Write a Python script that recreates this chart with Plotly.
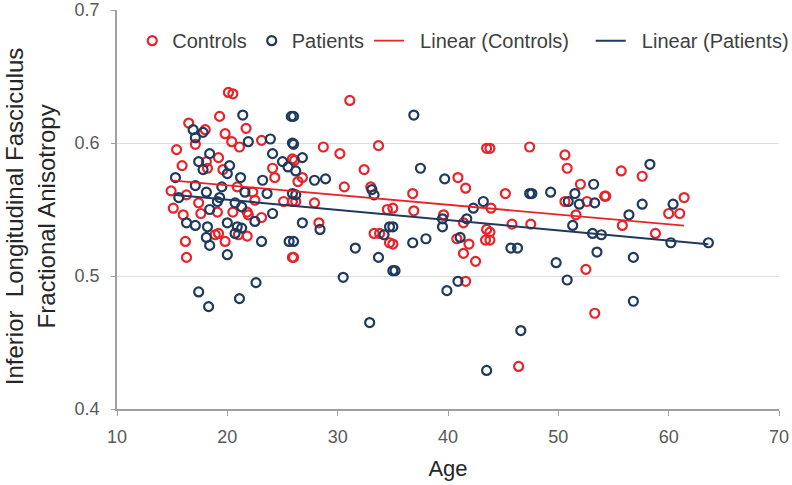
"""Inferior longitudinal fasciculus FA vs age"""
import numpy as np
import plotly.graph_objects as go

controls_age = [
    16.5, 15.4, 17.1, 18.0, 15.9, 14.9, 15.1, 16.0, 16.2, 16.3, 18.1, 17.4, 17.6, 16.3, 18.2, 18.9,
    20.1, 20.5, 19.3, 21.7, 19.8, 20.4, 21.1, 23.1, 19.2, 24.1, 24.3, 25.9, 19.6, 20.9, 22.3, 22.5,
    25.1, 25.9, 21.8, 21.9, 20.5, 23.1, 19.1, 19.2, 19.8, 21.8, 21.0, 25.9,
    31.1, 28.7, 30.2, 33.7, 32.4, 26.1, 26.8, 26.4, 30.6, 33.0, 26.2, 27.9, 34.5, 28.3, 33.3, 33.8,
    34.7, 26.0,
    43.5, 40.9, 41.6, 36.8, 35.0, 36.9, 39.6, 41.4, 43.5, 40.8, 41.9, 41.4, 42.5, 43.4, 35.0, 41.6,
    43.8, 47.4, 50.6, 50.8, 52.0, 45.2, 50.6, 52.6, 54.2, 43.9, 51.6, 45.8, 47.5, 43.8, 52.5, 53.3,
    46.4, 43.8,
    55.7, 57.6, 54.3, 61.4, 60.0, 61.0, 55.8, 58.8,
]
controls_fa = [
    0.615, 0.595, 0.599, 0.610, 0.583, 0.564, 0.551, 0.546, 0.526, 0.514, 0.586, 0.555, 0.547, 0.561, 0.581, 0.531,
    0.638, 0.637, 0.620, 0.611, 0.607, 0.601, 0.597, 0.602, 0.589, 0.581, 0.574, 0.588, 0.580, 0.567, 0.563, 0.557,
    0.556, 0.556, 0.548, 0.546, 0.548, 0.544, 0.548, 0.532, 0.526, 0.530, 0.531, 0.514,
    0.632, 0.597, 0.592, 0.598, 0.580, 0.587, 0.574, 0.571, 0.567, 0.567, 0.556, 0.555, 0.550, 0.540, 0.532, 0.532,
    0.525, 0.514,
    0.596, 0.574, 0.566, 0.562, 0.551, 0.549, 0.546, 0.540, 0.535, 0.528, 0.524, 0.517, 0.511, 0.527, 0.524, 0.496,
    0.596, 0.597, 0.591, 0.581, 0.569, 0.562, 0.556, 0.556, 0.560, 0.551, 0.546, 0.539, 0.539, 0.533, 0.505, 0.472,
    0.432, 0.527,
    0.579, 0.575, 0.560, 0.559, 0.547, 0.547, 0.538, 0.532,
]

patients_age = [
    16.9, 17.1, 17.8, 18.4, 17.4, 17.8, 15.3, 15.6, 17.1, 16.3, 17.1, 18.2, 18.1, 18.4, 17.4, 18.3,
    18.4, 18.1,
    21.4, 25.8, 21.9, 23.9, 24.1, 25.9, 25.0, 25.5, 20.2, 20.0, 21.2, 23.2, 21.6, 23.6, 19.5, 25.9,
    19.1, 19.3, 20.7, 21.3, 24.1, 22.5, 20.0, 20.9, 21.3, 20.7, 23.1, 25.6, 20.0, 22.6, 21.1,
    26.0, 26.0, 26.8, 26.2, 27.9, 28.9, 33.1, 33.3, 26.2, 26.8, 28.4, 34.2, 34.7, 26.0, 31.6, 33.7,
    30.5, 32.9, 35.0,
    36.9, 37.5, 39.7, 43.2, 42.3, 39.5, 39.5, 41.7, 35.0, 36.8, 38.0, 41.1, 35.2, 39.9, 40.9, 43.5,
    47.4, 47.6, 49.3, 51.5, 53.2, 50.9, 51.9, 53.3, 51.3, 53.1, 53.9, 45.7, 46.3, 53.5, 49.8, 50.8,
    46.6,
    58.3, 57.6, 60.4, 56.4, 60.2, 63.6, 56.8, 56.8,
]
patients_fa = [
    0.610, 0.604, 0.608, 0.592, 0.586, 0.580, 0.574, 0.559, 0.568, 0.540, 0.538, 0.537, 0.529, 0.523, 0.488, 0.477,
    0.550, 0.563,
    0.621, 0.620, 0.601, 0.603, 0.592, 0.600, 0.586, 0.582, 0.583, 0.577, 0.574, 0.572, 0.563, 0.562, 0.567, 0.562,
    0.556, 0.559, 0.555, 0.552, 0.547, 0.541, 0.540, 0.537, 0.536, 0.532, 0.526, 0.526, 0.516, 0.495, 0.483,
    0.620, 0.599, 0.589, 0.579, 0.572, 0.573, 0.565, 0.561, 0.561, 0.540, 0.535, 0.531, 0.537, 0.526, 0.521, 0.514,
    0.499, 0.465, 0.504,
    0.621, 0.581, 0.573, 0.556, 0.551, 0.543, 0.537, 0.543, 0.537, 0.525, 0.528, 0.529, 0.504, 0.489, 0.496, 0.429,
    0.562, 0.562, 0.563, 0.562, 0.569, 0.556, 0.554, 0.555, 0.538, 0.532, 0.531, 0.521, 0.521, 0.518, 0.510, 0.497,
    0.459,
    0.584, 0.554, 0.554, 0.546, 0.525, 0.525, 0.514, 0.481,
]

RED = '#e8232a'
NAVY = '#1f3a5c'
FONT = 'Liberation Sans, Arial, sans-serif'
NB = '\u00a0'


def trend(ages, fa):
    """Excel style linear trendline over the data range"""
    slope, icept = np.polyfit(ages, fa, 1)
    xs = np.array([min(ages), max(ages)])
    return xs, slope * xs + icept


fig = go.Figure()
fig.add_trace(go.Scatter(
    x=controls_age, y=controls_fa, mode='markers', name='Controls',
    marker=dict(symbol='circle-open', size=9, color=RED, line=dict(width=2.2, color=RED))
))
fig.add_trace(go.Scatter(
    x=patients_age, y=patients_fa, mode='markers', name='Patients',
    marker=dict(symbol='circle-open', size=9, color=NAVY, line=dict(width=2.2, color=NAVY))
))
cx, cy = trend(controls_age, controls_fa)
fig.add_trace(go.Scatter(
    x=cx, y=cy, mode='lines', name=NB * 2 + 'Linear (Controls)' + NB * 3,
    line=dict(color=RED, width=1.8)
))
px_, py_ = trend(patients_age, patients_fa)
fig.add_trace(go.Scatter(
    x=px_, y=py_, mode='lines', name=NB * 2 + 'Linear (Patients)',
    line=dict(color=NAVY, width=2)
))

fig.update_layout(
    width=792, height=485,
    margin=dict(l=117, r=13, t=10, b=76, autoexpand=False),
    paper_bgcolor='white', plot_bgcolor='white',
    font=dict(family=FONT, size=18, color='#404040'),
    legend=dict(
        orientation='h', x=0.023, y=0.972, xanchor='left', yanchor='top',
        font=dict(size=20, color='#404040'), bgcolor='rgba(0,0,0,0)',
        tracegroupgap=0
    ),
    showlegend=True,
)
fig.add_annotation(
    text='Inferior  Longitudinal Fasciculus<br>Fractional Anisotropy',
    xref='paper', yref='paper', x=-0.131, y=0.484,
    xanchor='center', yanchor='middle', textangle=-90, showarrow=False,
    font=dict(size=24, color='#262626')
)
fig.update_xaxes(
    range=[10, 70], tickvals=[10, 20, 30, 40, 50, 60, 70],
    showgrid=False, zeroline=False, automargin=False,
    showline=True, linecolor='#a0a0a0', linewidth=1.5,
    ticks='outside', ticklen=5, tickcolor='#a0a0a0', ticklabelstandoff=6,
    tickfont=dict(size=18, color='#595959'),
    title=dict(text='Age', font=dict(size=22, color='#262626'), standoff=14)
)
fig.update_yaxes(
    range=[0.4, 0.7], tickvals=[0.4, 0.5, 0.6, 0.7], tickformat='.1f',
    showgrid=True, gridcolor='#dcdcdc', gridwidth=1, zeroline=False, automargin=False,
    showline=True, linecolor='#a0a0a0', linewidth=1.5,
    ticks='outside', ticklen=4, tickcolor='#a0a0a0', ticklabelstandoff=8,
    tickfont=dict(size=18, color='#595959')
)

fig.write_html(
    "out.html",
    config={'displayModeBar': False},
    post_script="document.body.style.margin='0';"
)
